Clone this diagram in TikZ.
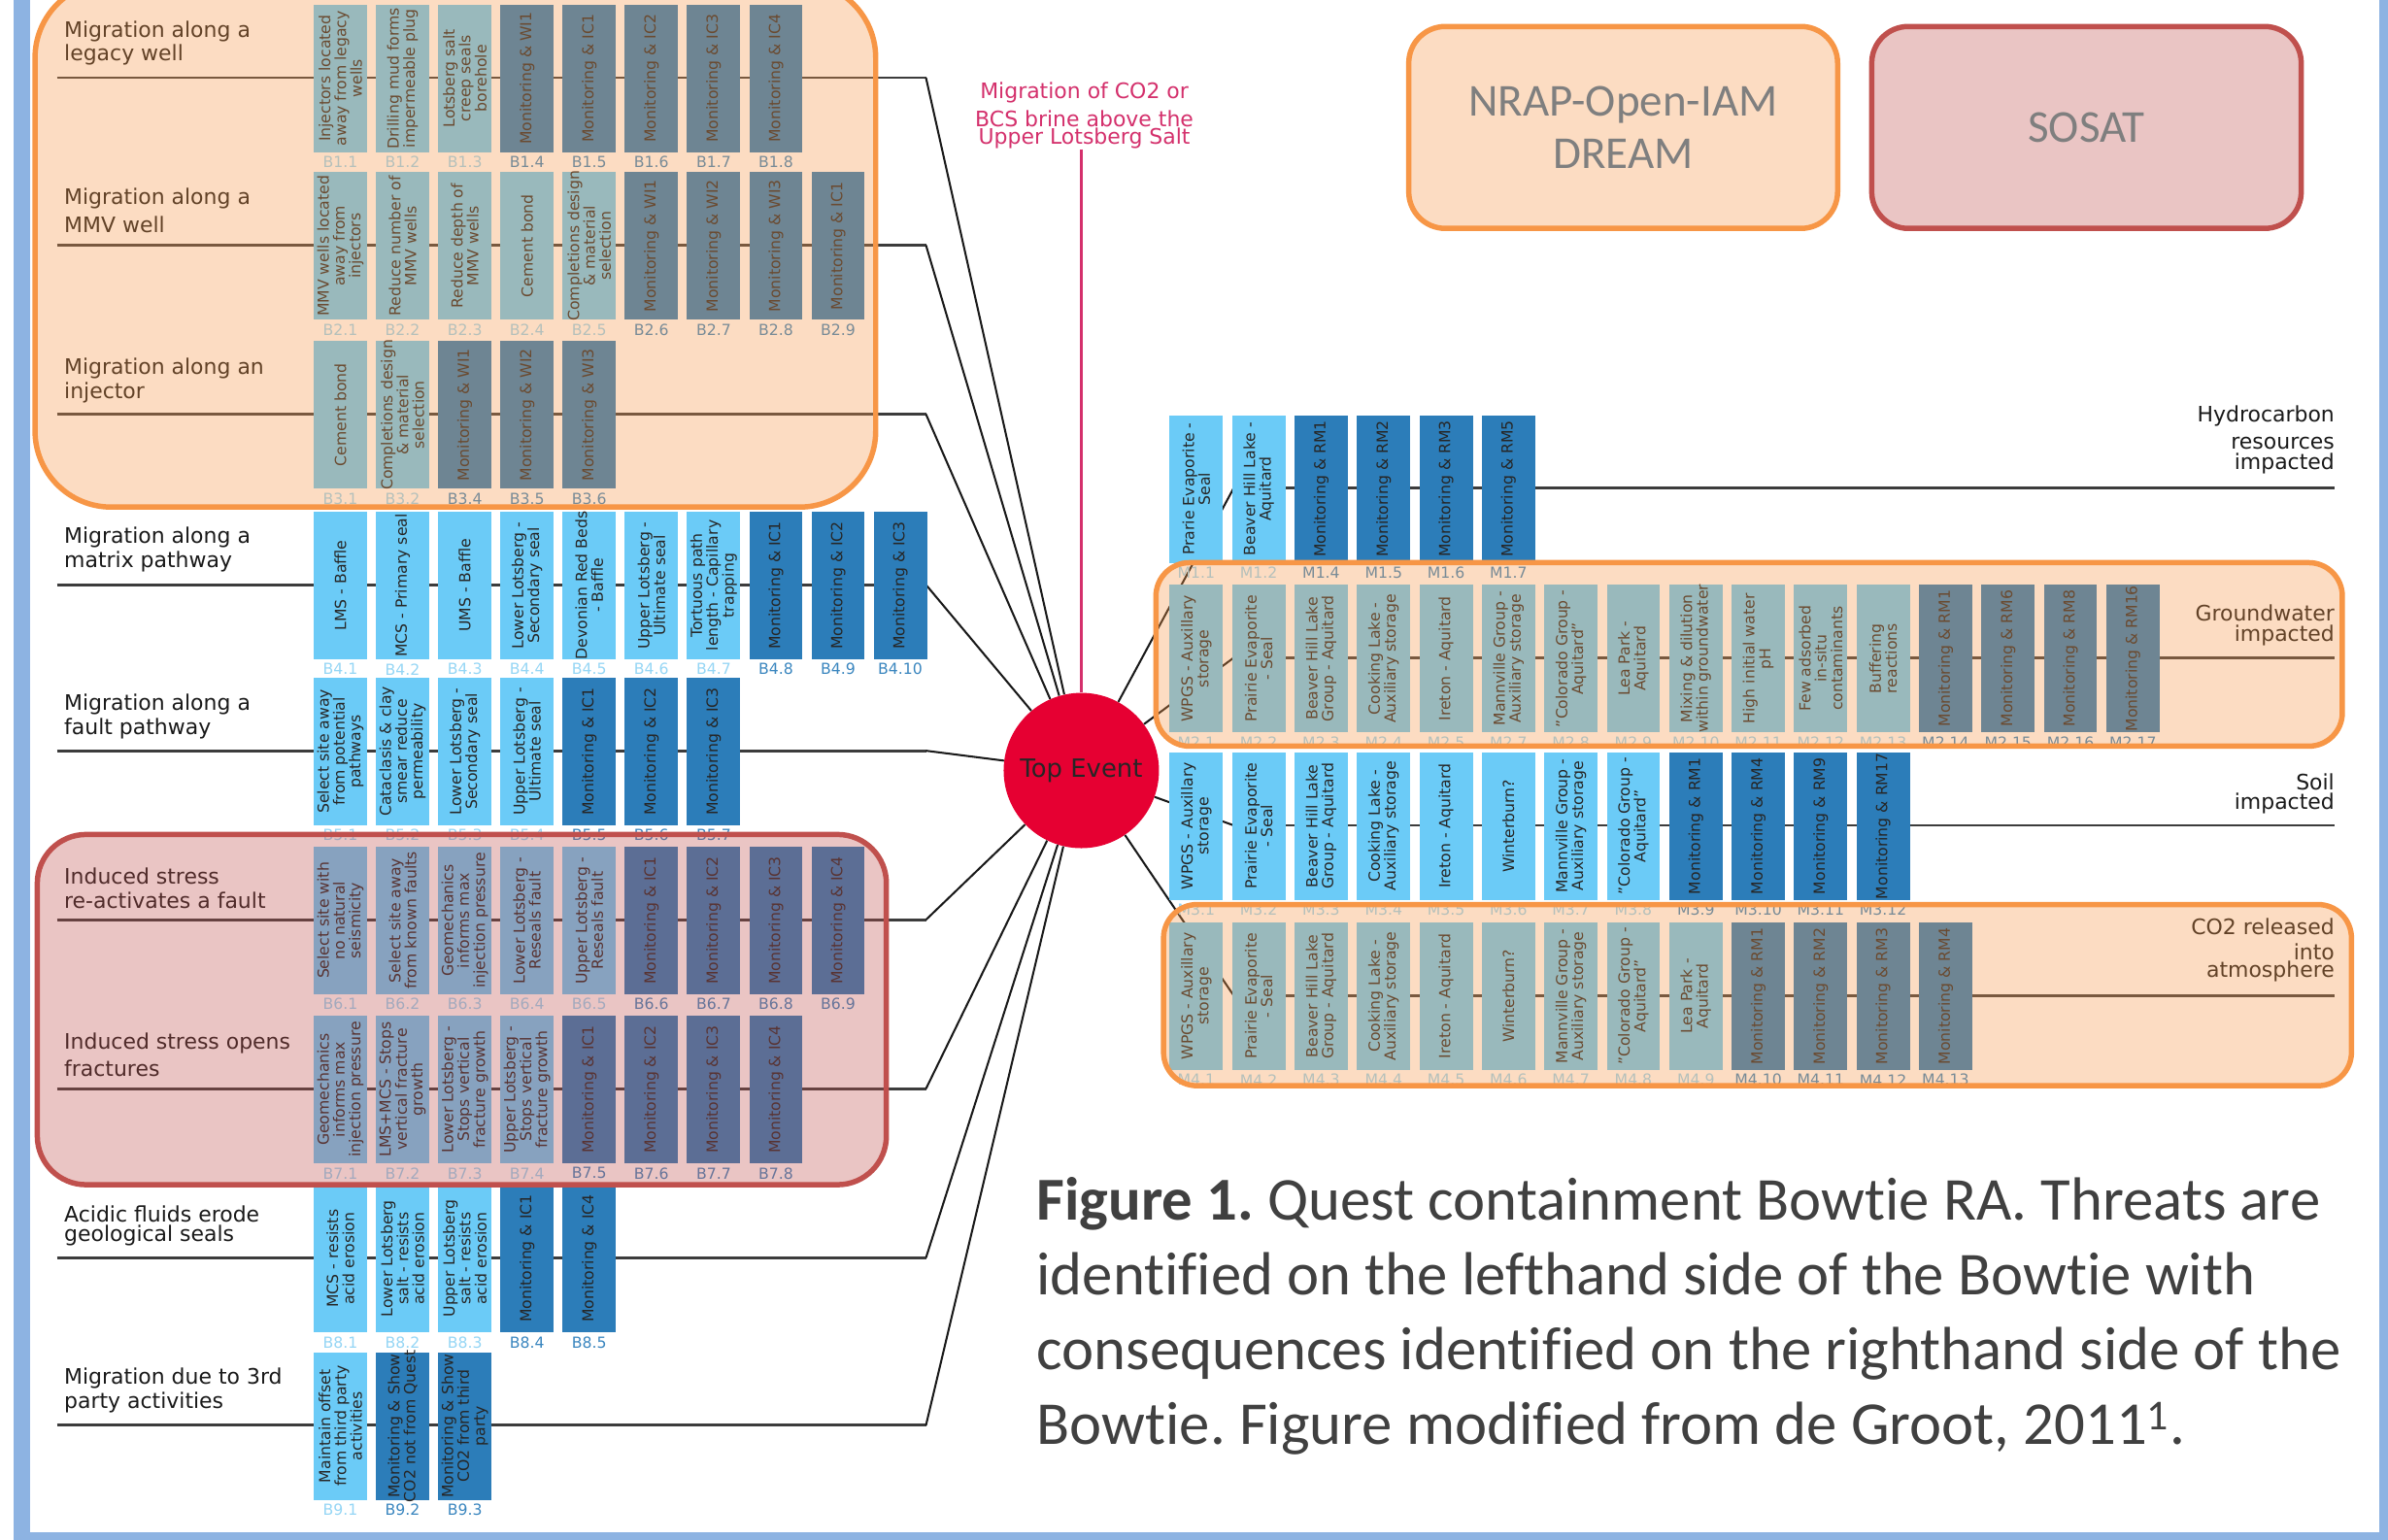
\documentclass[tikz,border=0pt]{standalone}
\usepackage{fontspec}
\setmainfont{DejaVu Sans}
\newfontfamily\capfont[Ligatures=NoCommon]{Carlito}
\usetikzlibrary{calc}
\frenchspacing
\definecolor{frameblue}{HTML}{8DB3E2}
\definecolor{L}{HTML}{6BCBF7}
\definecolor{D}{HTML}{2C7DB9}
\definecolor{Llab}{HTML}{95D6F5}
\definecolor{Dlab}{HTML}{3A86BF}
\definecolor{ovor}{HTML}{F79646}
\definecolor{ovred}{HTML}{C0504D}
\definecolor{topred}{HTML}{E60032}
\definecolor{hazcol}{HTML}{D4306C}
\definecolor{linecol}{HTML}{3C3C3C}
\definecolor{capgray}{HTML}{404040}
\definecolor{leggray}{HTML}{7F7F7F}
\newcommand\thlines[1]{\begin{tabular}[b]{@{}l@{}}#1\end{tabular}}
\newcommand\cqlines[1]{\begin{tabular}[b]{@{}r@{}}#1\end{tabular}}
\newcommand\hzlines[1]{\begin{tabular}[t]{@{}c@{}}#1\end{tabular}}
\newcommand\caplines[1]{\begin{tabular}[t]{@{}l@{}}#1\end{tabular}}
% #1 row id, #2 x0, #3 pitch, #4 row y, #5 list
\newcommand{\barrow}[5]{%
  \foreach \i/\cc/\lab/\tx in {#5} {
    \pgfmathsetmacro{\bxx}{#2+#3*\i+17.5}
    \edef\labcol{\cc lab}
    \node[bbox, fill=\cc] (bx-#1-\i) at (\bxx,#4+0.5) {};
    \node[btext] (bt-#1-\i) at (bx-#1-\i.center) {\tx};
    \node[blab, text=\labcol] (bl-#1-\i) at (\bxx,#4+55.5) {\lab};
  }
}
\begin{document}
\begin{tikzpicture}[x=1pt,y=-1pt,
  rowline/.style={draw=linecol,line width=1.8pt},
  diag/.style={draw=black!90,line width=1.3pt},
  bbox/.style={minimum width=35pt,minimum height=97pt,inner sep=0pt,draw=none},
  btext/.style={rotate=90,align=center,inner sep=0pt,text=black!85,font=\fontsize{10}{10.4}\selectfont},
  blab/.style={inner sep=0pt,font=\fontsize{10}{12}\selectfont},
  threat/.style={anchor=base west,inner sep=0pt,text=black!90,font=\fontsize{14}{16}\selectfont},
  conseq/.style={anchor=base east,inner sep=0pt,text=black!90,font=\fontsize{14}{16}\selectfont},
  tint/.style={line width=3.5pt,fill opacity=0.33,text opacity=1},
]
\useasboundingbox (0,0) rectangle (1568,1011);
\clip (0,0) rectangle (1568,1011);
\fill[white] (0,0) rectangle (1568,1011);
% frame
\fill[frameblue] (9,-5) rectangle (19.5,1011);
\fill[frameblue] (9,1006.5) rectangle (1568,1011);
\fill[frameblue] (1562.5,-5) rectangle (1568,1011);

% top event
\node[circle, fill=topred, minimum size=102pt, inner sep=0pt, text=black!85,
      font=\fontsize{16.5}{18}\selectfont] (topev) at (710,506) {Top Event};

% threat lines
\foreach \k/\yy in {1/51,2/161,3/272,4/384,5/493,6/604,7/715,8/826,9/936}{
  \coordinate (ts\k) at (37.4,\yy);
  \coordinate (te\k) at (608,\yy);
  \draw[rowline] (ts\k) -- (te\k);
  \draw[diag] (te\k) -- (topev);
}
% consequence lines
\foreach \k/\yy in {1/320.6,2/432,3/542,4/653.7}{
  \coordinate (cs\k) at (810,\yy);
  \coordinate (ce\k) at (1533,\yy);
  \draw[diag] (topev) -- (cs\k);
  \draw[rowline] (cs\k) -- (ce\k);
}
% hazard
\node[anchor=base, inner sep=0pt, text=hazcol, font=\fontsize{14}{16}\selectfont] (haz) at (712,65)
  {\hzlines{Migration of CO2 or\\[2pt]BCS brine above the\\[-4pt]Upper Lotsberg Salt}};
\coordinate (hzb) at (710,98);
\draw[draw=hazcol, line width=1.5pt] (hzb) -- (topev);

% barriers left
\barrow{B1}{206}{40.85}{51}{0/L/B1.1/{Injectors located\\away from legacy\\wells},1/L/B1.2/{Drilling mud forms\\impermeable plug},2/L/B1.3/{Lotsberg salt\\creep seals\\borehole},3/D/B1.4/{Monitoring \& WI1},4/D/B1.5/{Monitoring \& IC1},5/D/B1.6/{Monitoring \& IC2},6/D/B1.7/{Monitoring \& IC3},7/D/B1.8/{Monitoring \& IC4}}
\barrow{B2}{206}{40.85}{161}{0/L/B2.1/{MMV wells located\\away from\\injectors},1/L/B2.2/{Reduce number of\\MMV wells},2/L/B2.3/{Reduce depth of\\MMV wells},3/L/B2.4/{Cement bond},4/L/B2.5/{Completions design\\\& material\\selection},5/D/B2.6/{Monitoring \& WI1},6/D/B2.7/{Monitoring \& WI2},7/D/B2.8/{Monitoring \& WI3},8/D/B2.9/{Monitoring \& IC1}}
\barrow{B3}{206}{40.85}{272}{0/L/B3.1/{Cement bond},1/L/B3.2/{Completions design\\\& material\\selection},2/D/B3.4/{Monitoring \& WI1},3/D/B3.5/{Monitoring \& WI2},4/D/B3.6/{Monitoring \& WI3}}
\barrow{B4}{206}{40.85}{384}{0/L/B4.1/{LMS - Baffle},1/L/B4.2/{MCS - Primary seal},2/L/B4.3/{UMS - Baffle},3/L/B4.4/{Lower Lotsberg -\\Secondary seal},4/L/B4.5/{Devonian Red Beds\\- Baffle},5/L/B4.6/{Upper Lotsberg -\\Ultimate seal},6/L/B4.7/{Tortuous path\\length - Capillary\\trapping},7/D/B4.8/{Monitoring \& IC1},8/D/B4.9/{Monitoring \& IC2},9/D/B4.10/{Monitoring \& IC3}}
\barrow{B5}{206}{40.85}{493}{0/L/B5.1/{Select site away\\from potential\\pathways},1/L/B5.2/{Cataclasis \& clay\\smear reduce\\permeability},2/L/B5.3/{Lower Lotsberg -\\Secondary seal},3/L/B5.4/{Upper Lotsberg -\\Ultimate seal},4/D/B5.5/{Monitoring \& IC1},5/D/B5.6/{Monitoring \& IC2},6/D/B5.7/{Monitoring \& IC3}}
\barrow{B6}{206}{40.85}{604}{0/L/B6.1/{Select site with\\no natural\\seismicity},1/L/B6.2/{Select site away\\from known faults},2/L/B6.3/{Geomechanics\\informs max\\injection pressure},3/L/B6.4/{Lower Lotsberg -\\Reseals fault},4/L/B6.5/{Upper Lotsberg -\\Reseals fault},5/D/B6.6/{Monitoring \& IC1},6/D/B6.7/{Monitoring \& IC2},7/D/B6.8/{Monitoring \& IC3},8/D/B6.9/{Monitoring \& IC4}}
\barrow{B7}{206}{40.85}{715}{0/L/B7.1/{Geomechanics\\informs max\\injection pressure},1/L/B7.2/{LMS+MCS - Stops\\vertical fracture\\growth},2/L/B7.3/{Lower Lotsberg -\\Stops vertical\\fracture growth},3/L/B7.4/{Upper Lotsberg -\\Stops vertical\\fracture growth},4/D/B7.5/{Monitoring \& IC1},5/D/B7.6/{Monitoring \& IC2},6/D/B7.7/{Monitoring \& IC3},7/D/B7.8/{Monitoring \& IC4}}
\barrow{B8}{206}{40.85}{826}{0/L/B8.1/{MCS - resists\\acid erosion},1/L/B8.2/{Lower Lotsberg\\salt - resists\\acid erosion},2/L/B8.3/{Upper Lotsberg\\salt - resists\\acid erosion},3/D/B8.4/{Monitoring \& IC1},4/D/B8.5/{Monitoring \& IC4}}
\barrow{B9}{206}{40.85}{936}{0/L/B9.1/{Maintain offset\\from third party\\activities},1/D/B9.2/{Monitoring \& Show\\CO2 not from Quest},2/D/B9.3/{Monitoring \& Show\\CO2 from third\\party}}

% barriers right
\barrow{M1}{768}{41}{320.6}{0/L/M1.1/{Prarie Evaporite -\\Seal},1/L/M1.2/{Beaver Hill Lake -\\Aquitard},2/D/M1.4/{Monitoring \& RM1},3/D/M1.5/{Monitoring \& RM2},4/D/M1.6/{Monitoring \& RM3},5/D/M1.7/{Monitoring \& RM5}}
\barrow{M2}{768}{41}{432}{0/L/M2.1/{WPGS - Auxillary\\storage},1/L/M2.2/{Prairie Evaporite\\- Seal},2/L/M2.3/{Beaver Hill Lake\\Group - Aquitard},3/L/M2.4/{Cooking Lake -\\Auxiliary storage},4/L/M2.5/{Ireton - Aquitard},5/L/M2.7/{Mannville Group -\\Auxiliary storage},6/L/M2.8/{"Colorado Group -\\Aquitard"},7/L/M2.9/{Lea Park -\\Aquitard},8/L/M2.10/{Mixing \& dilution\\within groundwater},9/L/M2.11/{High initial water\\pH},10/L/M2.12/{Few adsorbed\\in-situ\\contaminants},11/L/M2.13/{Buffering\\reactions},12/D/M2.14/{Monitoring \& RM1},13/D/M2.15/{Monitoring \& RM6},14/D/M2.16/{Monitoring \& RM8},15/D/M2.17/{Monitoring \& RM16}}
\barrow{M3}{768}{41}{542}{0/L/M3.1/{WPGS - Auxillary\\storage},1/L/M3.2/{Prairie Evaporite\\- Seal},2/L/M3.3/{Beaver Hill Lake\\Group - Aquitard},3/L/M3.4/{Cooking Lake -\\Auxiliary storage},4/L/M3.5/{Ireton - Aquitard},5/L/M3.6/{Winterburn?},6/L/M3.7/{Mannville Group -\\Auxiliary storage},7/L/M3.8/{"Colorado Group -\\Aquitard"},8/D/M3.9/{Monitoring \& RM1},9/D/M3.10/{Monitoring \& RM4},10/D/M3.11/{Monitoring \& RM9},11/D/M3.12/{Monitoring \& RM17}}
\barrow{M4}{768}{41}{653.7}{0/L/M4.1/{WPGS - Auxillary\\storage},1/L/M4.2/{Prairie Evaporite\\- Seal},2/L/M4.3/{Beaver Hill Lake\\Group - Aquitard},3/L/M4.4/{Cooking Lake -\\Auxiliary storage},4/L/M4.5/{Ireton - Aquitard},5/L/M4.6/{Winterburn?},6/L/M4.7/{Mannville Group -\\Auxiliary storage},7/L/M4.8/{"Colorado Group -\\Aquitard"},8/L/M4.9/{Lea Park -\\Aquitard},9/D/M4.10/{Monitoring \& RM1},10/D/M4.11/{Monitoring \& RM2},11/D/M4.12/{Monitoring \& RM3},12/D/M4.13/{Monitoring \& RM4}}

% threat labels
\node[threat] (th1) at (42,40) {\thlines{Migration along a\\[-0.5pt]legacy well}};
\node[threat] (th2) at (42,153) {\thlines{Migration along a\\[2.6pt]MMV well}};
\node[threat] (th3) at (42,261.5) {\thlines{Migration along an\\injector}};
\node[threat] (th4) at (42,373) {\thlines{Migration along a\\matrix pathway}};
\node[threat] (th5) at (42,482.6) {\thlines{Migration along a\\fault pathway}};
\node[threat] (th6) at (42,596.3) {\thlines{Induced stress\\re-activates a fault}};
\node[threat] (th7) at (42,706.8) {\thlines{Induced stress opens\\[2pt]fractures}};
\node[threat] (th8) at (42,815) {\thlines{Acidic fluids erode\\[-3.5pt]geological seals}};
\node[threat] (th9) at (42,924.7) {\thlines{Migration due to 3rd\\party activities}};

% consequence labels
\node[conseq] (cq1) at (1533,308.1) {\cqlines{Hydrocarbon\\[2pt]resources\\[-3pt]impacted}};
\node[conseq] (cq2) at (1533,421) {\cqlines{Groundwater\\[-3pt]impacted}};
\node[conseq] (cq3) at (1533,531.5) {\cqlines{Soil\\[-3pt]impacted}};
\node[conseq] (cq4) at (1533,642) {\cqlines{CO2 released\\into\\[-4pt]atmosphere}};

% tool overlays
\draw[tint, draw=ovor, fill=ovor, rounded corners=50pt] (23,-12) rectangle (575,333);
\draw[tint, draw=ovred, fill=ovred, rounded corners=32pt] (24.5,548) rectangle (582,778);
\draw[tint, draw=ovor, fill=ovor, rounded corners=22pt] (759,369.5) rectangle (1538,490);
\draw[tint, draw=ovor, fill=ovor, rounded corners=22pt] (764,594) rectangle (1544,713);

% legend
\node[tint, draw=ovor, fill=ovor, rounded corners=24pt, minimum width=281.6pt, minimum height=132.6pt,
      text=leggray, align=center, font=\capfont\fontsize{30}{34}\selectfont] (nrap) at (1065.8,83.7) {NRAP-Open-IAM\\DREAM};
\node[tint, draw=ovred, fill=ovred, rounded corners=24pt, minimum width=282pt, minimum height=132.6pt,
      text=leggray, font=\capfont\fontsize{30}{34}\selectfont] (sosat) at (1370,83.7) {SOSAT};

% caption
\node[anchor=base west, inner sep=0pt, text=capgray, font=\capfont\fontsize{40}{48.9}\selectfont] (cap) at (680.5,801.5)
 {\caplines{\textbf{Figure 1.} Quest containment Bowtie RA. Threats are\\identified on the lefthand side of the Bowtie with\\consequences identified on the righthand side of the\\Bowtie. Figure modified from de Groot, 2011\textsuperscript{1}.}};
\end{tikzpicture}
\end{document}
